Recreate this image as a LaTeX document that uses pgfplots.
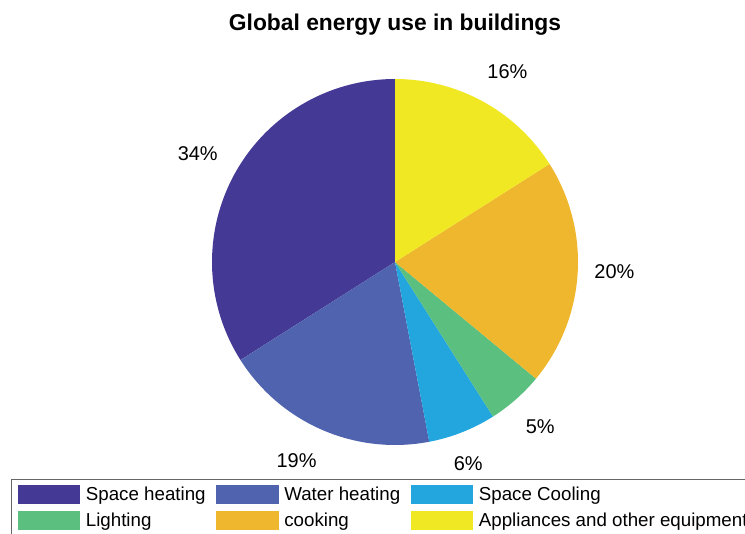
\documentclass[border=0pt]{standalone}
\usepackage{pgfplots}
\pgfplotsset{compat=1.18}
\usepackage{fontspec}
\setmainfont{Liberation Sans}
\definecolor{cSH}{HTML}{443A96}
\definecolor{cWH}{HTML}{5063AF}
\definecolor{cSC}{HTML}{23A6DE}
\definecolor{cLI}{HTML}{5BBF80}
\definecolor{cCO}{HTML}{EFB72D}
\definecolor{cAP}{HTML}{EFE823}
% shares (%): Space heating 34, Water heating 19, Space Cooling 6,
% Lighting 5, cooking 20, Appliances 16 ; start at 90 deg, counterclockwise
% angle = 3.6 * percent
\begin{document}
\begin{tikzpicture}
\useasboundingbox (0,0) rectangle (745bp,534bp);
\node[font=\fontsize{22.9}{27}\selectfont\bfseries] at (395bp,509bp) {Global energy use in buildings};
\begin{axis}[
  at={(395bp,272bp)}, anchor=center,
  x=183bp, y=183bp,
  xmin=-1.3, xmax=1.3, ymin=-1.3, ymax=1.3,
  hide axis, clip=false,
  legend columns=3,
  legend style={at={(-0.3077,0.0439)}, anchor=north west,
    draw=black!60, fill=white, inner xsep=7bp, inner ysep=6bp,
    font=\fontsize{18.8}{22}\selectfont,
    /tikz/every even column/.append style={column sep=8.7bp},
    /tikz/every odd column/.append style={column sep=3.5bp},
    row sep=7bp},
  legend cell align=left,
  legend image code/.code={\fill[#1] (0bp,-9.5bp) rectangle (62.5bp,9.5bp);},
]
\addplot[fill=cSH, draw=none, domain=90:212.4, samples=80] ({cos(x)},{sin(x)}) -- (axis cs:0,0) -- cycle;
\addlegendentry{Space heating}
\addplot[fill=cWH, draw=none, domain=212.4:280.8, samples=50] ({cos(x)},{sin(x)}) -- (axis cs:0,0) -- cycle;
\addlegendentry{Water heating}
\addplot[fill=cSC, draw=none, domain=280.8:302.4, samples=20] ({cos(x)},{sin(x)}) -- (axis cs:0,0) -- cycle;
\addlegendentry{Space Cooling}
\addplot[fill=cLI, draw=none, domain=302.4:320.4, samples=20] ({cos(x)},{sin(x)}) -- (axis cs:0,0) -- cycle;
\addlegendentry{Lighting}
\addplot[fill=cCO, draw=none, domain=320.4:392.4, samples=50] ({cos(x)},{sin(x)}) -- (axis cs:0,0) -- cycle;
\addlegendentry{cooking}
\addplot[fill=cAP, draw=none, domain=392.4:450, samples=40] ({cos(x)},{sin(x)}) -- (axis cs:0,0) -- cycle;
\addlegendentry{Appliances and other equipment}
\begin{scope}[every node/.style={font=\fontsize{20}{24}\selectfont}]
\node at (axis cs:{1.23*cos(151.2)},{1.23*sin(151.2)}) {34\%};
\node at (axis cs:{1.21*cos(243.6)},{1.21*sin(243.6)}) {19\%};
\node at (axis cs:{1.17*cos(290)},{1.17*sin(290)}) {6\%};
\node at (axis cs:{1.2*cos(311.4)},{1.2*sin(311.4)}) {5\%};
\node at (axis cs:{1.2*cos(357.5)},{1.2*sin(357.5)}) {20\%};
\node at (axis cs:{1.21*cos(59.5)},{1.21*sin(59.5)}) {16\%};
\end{scope}
\end{axis}
\end{tikzpicture}
\end{document}
